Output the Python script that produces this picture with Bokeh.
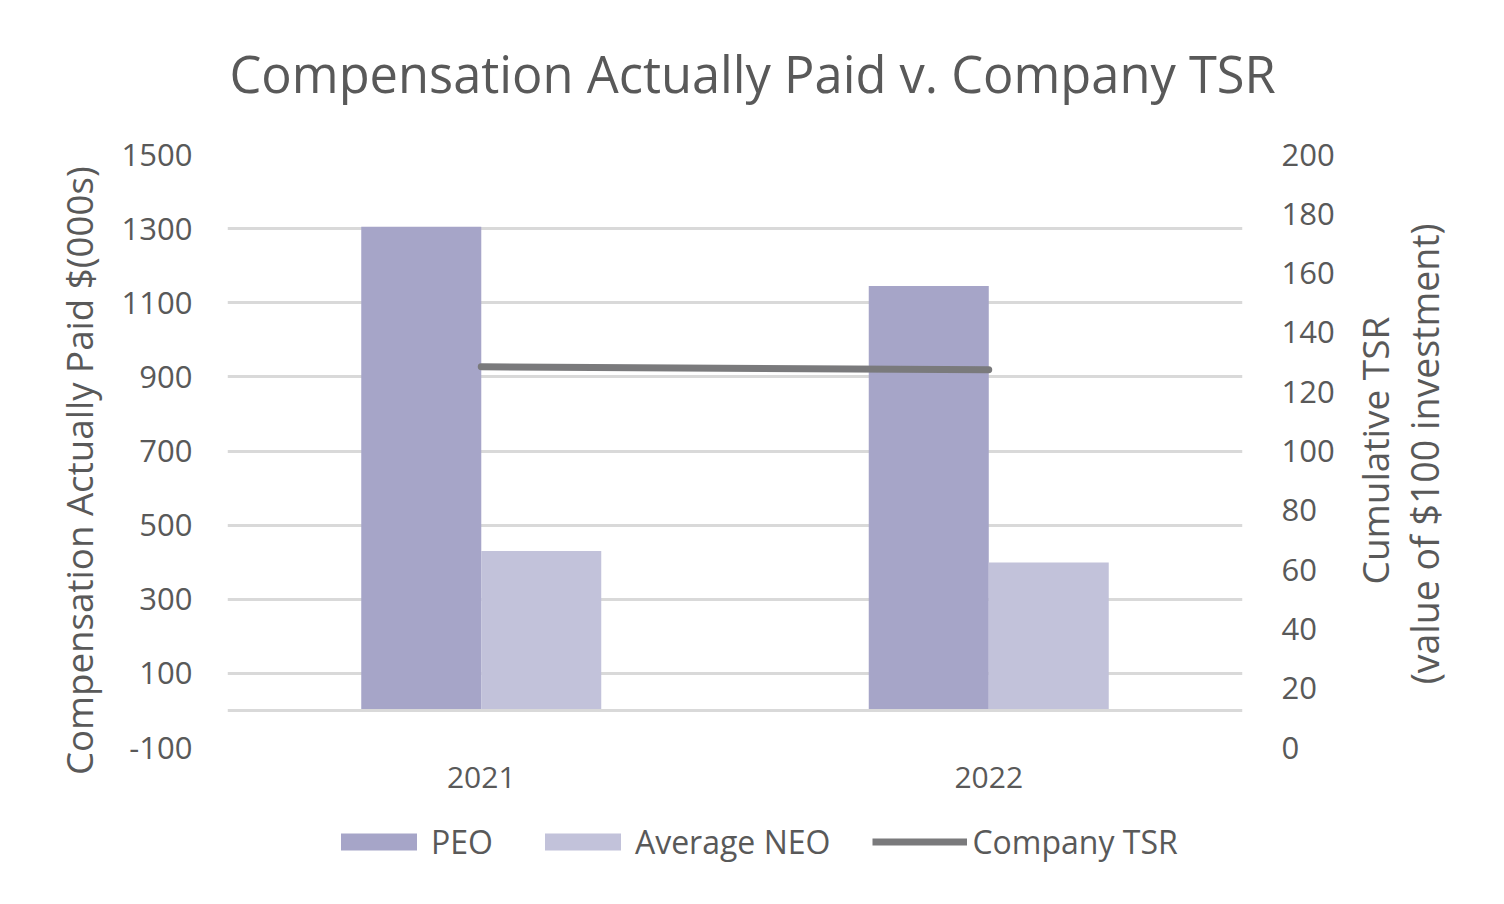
import math
from bokeh.plotting import figure
from bokeh.layouts import column
from bokeh.models import (Range1d, LinearAxis, FixedTicker, Span, Legend, LegendItem,
                          ColumnDataSource, Title)
from bokeh.transform import dodge
from bokeh.embed import file_html
from bokeh.resources import INLINE

years = ["2021", "2022"]
peo = [1305, 1145]
avg_neo = [430, 399]
company_tsr = [128.4, 127.4]
left_ticks = [-100, 100, 300, 500, 700, 900, 1100, 1300, 1500]
right_ticks = [0, 20, 40, 60, 80, 100, 120, 140, 160, 180, 200]

FONT = "Open Sans"
TXT = "#595959"
PEO_C = "#a6a5c8"
NEO_C = "#c2c2da"
TSR_C = "#7a7a7c"

p = figure(x_range=years, y_range=Range1d(-100, 1500),
           frame_width=1015, frame_height=593,
           min_border_left=227, min_border_right=246,
           min_border_top=154, min_border_bottom=65,
           output_backend="svg", toolbar_location=None,
           title="Compensation Actually Paid v. Company TSR")
p.extra_y_ranges = {"tsr": Range1d(0, 200)}
p.outline_line_color = None
p.background_fill_color = "white"
p.border_fill_color = "white"

p.title.text_font = FONT
p.title.text_font_size = "50.6px"
p.title.text_font_style = "normal"
p.title.text_color = TXT
p.title.align = "left"
p.title.offset = 2
p.title.standoff = 20

# empty spacer between the title and the plot area
p.add_layout(Title(text=" ", text_font_size="1px", standoff=34), "above")

p.xgrid.grid_line_color = None
p.ygrid.grid_line_color = "#d9d9d9"
p.ygrid.grid_line_width = 3
p.yaxis.ticker = FixedTicker(ticks=left_ticks)

p.add_layout(Span(location=0, dimension="width", line_color="#d9d9d9", line_width=3))

cds = ColumnDataSource(dict(years=years, peo=peo, neo=avg_neo, tsr=company_tsr))

p.vbar(x=dodge("years", -0.1182, range=p.x_range), top="peo", bottom=0,
       width=0.2365, source=cds, fill_color=PEO_C, line_color=None)
p.vbar(x=dodge("years", 0.1182, range=p.x_range), top="neo", bottom=0,
       width=0.2365, source=cds, fill_color=NEO_C, line_color=None)
p.line(x="years", y="tsr", source=cds, y_range_name="tsr",
       line_color=TSR_C, line_width=7, line_cap="round")


def style_axis(ax, size="30px"):
    ax.axis_line_color = None
    ax.major_tick_line_color = None
    ax.minor_tick_line_color = None
    ax.major_label_text_font = FONT
    ax.major_label_text_font_size = size
    ax.major_label_text_color = TXT


ya = p.yaxis[0]
style_axis(ya, "31px")
ya.major_label_standoff = 29
ya.major_label_overrides = {-100: "-100"}

# left axis title: a one-tick label axis, so its centre can sit where the reference has it
LEFT_TITLE_AT = 647
ya2 = LinearAxis(ticker=FixedTicker(ticks=[LEFT_TITLE_AT]))
style_axis(ya2, "36.7px")
ya2.major_label_overrides = {LEFT_TITLE_AT: "Compensation Actually Paid $(000s)"}
ya2.major_label_orientation = "vertical"
ya2.major_label_standoff = 8
p.add_layout(ya2, "left")

# right tick labels
ra = LinearAxis(y_range_name="tsr", ticker=FixedTicker(ticks=right_ticks))
style_axis(ra, "31px")
ra.major_label_standoff = 33
p.add_layout(ra, "right")

# right axis titles (rotated labels start at their tick)
TSR_TITLE_AT = 55.0
VAL_TITLE_AT = 21.3
ra3 = LinearAxis(y_range_name="tsr", ticker=FixedTicker(ticks=[TSR_TITLE_AT]))
style_axis(ra3, "37px")
ra3.major_label_overrides = {TSR_TITLE_AT: "Cumulative TSR"}
ra3.major_label_orientation = math.pi / 2
ra3.major_label_standoff = 31
p.add_layout(ra3, "right")

ra2 = LinearAxis(y_range_name="tsr", ticker=FixedTicker(ticks=[VAL_TITLE_AT]))
style_axis(ra2, "37.5px")
ra2.major_label_overrides = {VAL_TITLE_AT: "(value of $100 investment)"}
ra2.major_label_orientation = math.pi / 2
ra2.major_label_standoff = -10
p.add_layout(ra2, "right")

xa = p.xaxis[0]
style_axis(xa)
xa.major_label_standoff = 13

# legend strip below the chart (proxy renderers placed outside the visible range)
q = figure(width=1488, height=70, x_range=Range1d(0, 1), y_range=Range1d(0, 1),
           min_border=0, x_axis_location=None, y_axis_location=None,
           output_backend="svg", toolbar_location=None)
q.outline_line_color = None
q.xgrid.grid_line_color = None
q.ygrid.grid_line_color = None
proxy = ColumnDataSource(dict(x=[-3, -2], y=[-3, -3]))
g1 = q.vbar(x="x", top="y", width=0.1, source=proxy, fill_color=PEO_C, line_color=None)
g2 = q.vbar(x="x", top="y", width=0.1, source=proxy, fill_color=NEO_C, line_color=None)
g3 = q.line(x="x", y="y", source=proxy, line_color=TSR_C, line_width=7)

legend = Legend(items=[LegendItem(label="PEO", renderers=[g1]),
                       LegendItem(label="Average NEO", renderers=[g2]),
                       LegendItem(label="Company TSR", renderers=[g3])],
                orientation="horizontal", location=(104, 19))
legend.glyph_width = 95
legend.glyph_height = 21
legend.label_standoff = 5
legend.spacing = 42
legend.label_text_font = FONT
legend.label_text_font_size = "32px"
legend.label_text_color = TXT
legend.border_line_color = None
legend.background_fill_alpha = 0
legend.margin = 0
legend.padding = 0
q.add_layout(legend, "center")

layout = column(p, q, spacing=0)
open("out.html", "w").write(file_html(layout, INLINE))
